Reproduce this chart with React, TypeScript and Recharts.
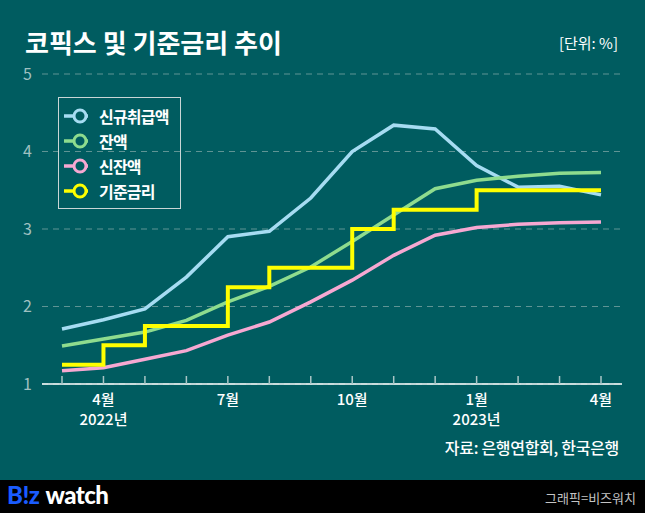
import { LineChart, Line, XAxis, YAxis, CartesianGrid, Legend } from "recharts";

const months = [
  "2022-03", "2022-04", "2022-05", "2022-06", "2022-07", "2022-08", "2022-09",
  "2022-10", "2022-11", "2022-12", "2023-01", "2023-02", "2023-03", "2023-04",
];
const monthLabels = ["", "4월", "", "", "7월", "", "", "10월", "", "", "1월", "", "", "4월"];
const yearLabels = ["", "2022년", "", "", "", "", "", "", "", "", "2023년", "", "", ""];

// 코픽스 (%)
const newLoan = [1.71, 1.83, 1.97, 2.38, 2.9, 2.97, 3.4, 4.0, 4.34, 4.29, 3.82, 3.54, 3.55, 3.44];
const balance = [1.49, 1.58, 1.67, 1.82, 2.06, 2.26, 2.51, 2.84, 3.18, 3.52, 3.63, 3.68, 3.72, 3.73];
const newBalance = [1.17, 1.21, 1.32, 1.43, 1.63, 1.8, 2.06, 2.34, 2.66, 2.92, 3.02, 3.06, 3.08, 3.09];
// 기준금리 (%)
const baseRate = [1.25, 1.5, 1.75, 1.75, 2.25, 2.5, 2.5, 3.0, 3.25, 3.25, 3.5, 3.5, 3.5, 3.5];

const yTicks = [1, 2, 3, 4, 5];

const series = [
  { key: "newLoan", name: "신규취급액", color: "#a6dcf2" },
  { key: "balance", name: "잔액", color: "#8edc8e" },
  { key: "newBalance", name: "신잔액", color: "#f6a8d2" },
  { key: "baseRate", name: "기준금리", color: "#ffff00" },
];

const data = months.map((m, i) => ({
  month: m,
  newLoan: newLoan[i],
  balance: balance[i],
  newBalance: newBalance[i],
  baseRate: baseRate[i],
}));

const BG = "#005c60";
const FONT = "'Noto Sans CJK KR', 'Noto Sans', sans-serif";

function MonthTick(props: any) {
  const { x, y, index } = props;
  return (
    <g>
      <line x1={x} x2={x} y1={y - 8} y2={y} stroke="#a9c6c6" strokeWidth={1.5} />
      <text x={x} y={y + 21} textAnchor="middle" fill="#ffffff" fontSize={15} fontWeight={500} fontFamily={FONT}>
        {monthLabels[index]}
      </text>
      <text x={x} y={y + 41} textAnchor="middle" fill="#ffffff" fontSize={15} fontWeight={500} fontFamily={FONT}>
        {yearLabels[index]}
      </text>
    </g>
  );
}

function LegendBox() {
  return (
    <div
      style={{
        border: "1px solid #c9d6d6",
        padding: "5px 0 5px 4px",
        width: 117,
        whiteSpace: "nowrap",
      }}
    >
      {series.map((s) => (
        <div key={s.key} style={{ display: "flex", alignItems: "center", height: 25 }}>
          <svg width={30} height={20}>
            <line x1={1} x2={25} y1={10} y2={10} stroke={s.color} strokeWidth={3.5} />
            <circle cx={17} cy={10} r={6} fill={BG} stroke={s.color} strokeWidth={3} />
          </svg>
          <span style={{ color: "#fff", fontSize: 16, fontWeight: 700, marginLeft: 6, letterSpacing: -0.8, fontFamily: FONT }}>
            {s.name}
          </span>
        </div>
      ))}
    </div>
  );
}

export default function App() {
  return (
    <div
      style={{
        position: "absolute",
        left: 0,
        top: 0,
        width: 645,
        height: 513,
        background: BG,
        fontFamily: FONT,
        overflow: "hidden",
      }}
    >
      <div style={{ position: "absolute", left: 25, top: 23, color: "#fff", fontSize: 26, fontWeight: 700, whiteSpace: "nowrap" }}>
        코픽스 및 기준금리 추이
      </div>
      <div style={{ position: "absolute", right: 27, top: 32, color: "#fff", fontSize: 15 }}>[단위: %]</div>

      <LineChart
        width={645}
        height={513}
        data={data}
        margin={{ top: 74, right: 23, bottom: 99, left: 0 }}
        style={{ position: "absolute", left: 0, top: 0 }}
      >
        <CartesianGrid vertical={false} stroke="#5f9494" strokeDasharray="6 5" />
        <XAxis
          dataKey="month"
          interval={0}
          padding={{ left: 20, right: 21 }}
          axisLine={{ stroke: "#ffffff", strokeWidth: 1.5 }}
          tickLine={false}
          tickSize={0}
          tickMargin={0}
          height={30}
          tick={<MonthTick />}
        />
        <YAxis
          domain={[1, 5]}
          ticks={yTicks}
          width={42}
          axisLine={false}
          tickLine={false}
          tickSize={0}
          tickMargin={10}
          tick={{ fill: "#9fc0c0", fontSize: 16, fontFamily: FONT }}
        />
        <Legend
          layout="vertical"
          verticalAlign="middle"
          align="center"
          wrapperStyle={{ left: 58, top: 97, width: "auto" }}
          content={() => <LegendBox />}
        />
        {series.map((s) => (
          <Line
            key={s.key}
            dataKey={s.key}
            name={s.name}
            type={s.key === "baseRate" ? "stepAfter" : "linear"}
            stroke={s.color}
            strokeWidth={s.key === "baseRate" ? 4 : 3.5}
            dot={false}
            activeDot={false}
            isAnimationActive={false}
          />
        ))}
      </LineChart>

      <div style={{ position: "absolute", right: 26, top: 435, color: "#fff", fontSize: 16, fontWeight: 500, letterSpacing: -0.3, whiteSpace: "nowrap" }}>
        자료: 은행연합회, 한국은행
      </div>

      <div style={{ position: "absolute", left: 0, top: 480, width: 645, height: 33, background: "#000" }}>
        <div style={{ position: "absolute", left: 7, top: 0, fontSize: 24, fontWeight: 900, fontFamily: "Lato, 'Noto Sans', sans-serif", letterSpacing: -0.5, whiteSpace: "nowrap" }}>
          <span style={{ color: "#1a5cff" }}>B!z</span>
          <span style={{ color: "#fff", marginLeft: 6 }}>watch</span>
        </div>
        <div style={{ position: "absolute", right: 9, top: 8, color: "#c4c4c4", fontSize: 13 }}>그래픽=비즈워치</div>
      </div>
    </div>
  );
}
